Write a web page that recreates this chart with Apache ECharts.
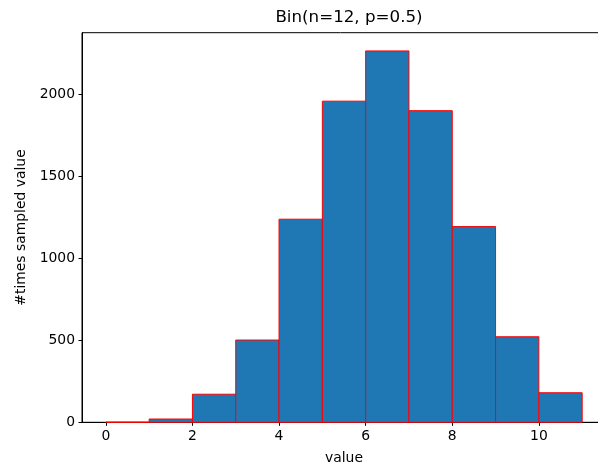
<!DOCTYPE html>
<html>
<head>
<meta charset="utf-8">
<script src="https://cdn.jsdelivr.net/npm/echarts@6/dist/echarts.min.js"></script>
<style>
  html, body { margin: 0; padding: 0; background: #fff; }
  #chart { width: 598px; height: 470px; }
</style>
</head>
<body>
<div id="chart"></div>
<script>
// bin edges and counts
const binEdges = [0, 1, 2, 3, 4, 5, 6, 7, 8, 9, 10, 11]
const counts = [1, 20, 171, 501, 1237, 1956, 2262, 1898, 1192, 521, 180]
const xTicks = [0, 2, 4, 6, 8, 10]
const yTicks = [0, 500, 1000, 1500, 2000]

const font = 'DejaVu Sans'

// one row per bin: [lo, hi, count]
let bars = counts.map((c, i) => [binEdges[i], binEdges[i + 1], c])

let chart = echarts.init(document.getElementById('chart'))

chart.setOption({
    animation: false,
    title: {
        text: 'Bin(n=12, p=0.5)',
        left: 344,
        top: 4,
        textAlign: 'center',
        textStyle: { fontFamily: font, fontSize: 16.7, fontWeight: 'normal', color: '#000' }
    },
    grid: {
        left: 82,
        width: 524,
        top: 32.7,
        height: 389.6,
        outerBoundsMode: 'none',
        containLabel: false,
        show: true,
        borderColor: '#000',
        borderWidth: 1,
        backgroundColor: 'transparent'
    },
    xAxis: {
        type: 'value',
        min: -0.55,
        max: 11.55,
        name: 'value',
        nameLocation: 'middle',
        nameGap: 29,
        nameTextStyle: { fontFamily: font, fontSize: 13.9, color: '#000' },
        splitLine: { show: false },
        axisLine: { show: true, onZero: false, lineStyle: { color: '#000', width: 1 } },
        axisTick: { show: true, customValues: xTicks, length: 3.5, lineStyle: { color: '#000' } },
        axisLabel: { customValues: xTicks, margin: 7, fontFamily: font, fontSize: 13.9, color: '#000' }
    },
    yAxis: {
        type: 'value',
        min: 0,
        max: 2373,
        name: '#times sampled value',
        nameLocation: 'middle',
        nameGap: 53,
        nameTextStyle: { fontFamily: font, fontSize: 13.9, color: '#000' },
        splitLine: { show: false },
        axisLine: { show: true, onZero: false, lineStyle: { color: '#000', width: 1 } },
        axisTick: { show: true, customValues: yTicks, length: 3.5, lineStyle: { color: '#000' } },
        axisLabel: {
            customValues: yTicks,
            margin: 7,
            fontFamily: font,
            fontSize: 13.9,
            color: '#000',
            formatter: v => String(v)
        }
    },
    series: [
        {
            type: 'custom',
            data: bars,
            encode: { x: [0, 1], y: 2 },
            renderItem: (params, api) => {
                let p0 = api.coord([api.value(0), api.value(2)])
                let p1 = api.coord([api.value(1), 0])
                return {
                    type: 'rect',
                    shape: { x: p0[0], y: p0[1], width: p1[0] - p0[0], height: p1[1] - p0[1] },
                    style: { fill: '#1f77b4', stroke: '#ff0000', lineWidth: 1 }
                }
            }
        }
    ]
})
</script>
</body>
</html>
